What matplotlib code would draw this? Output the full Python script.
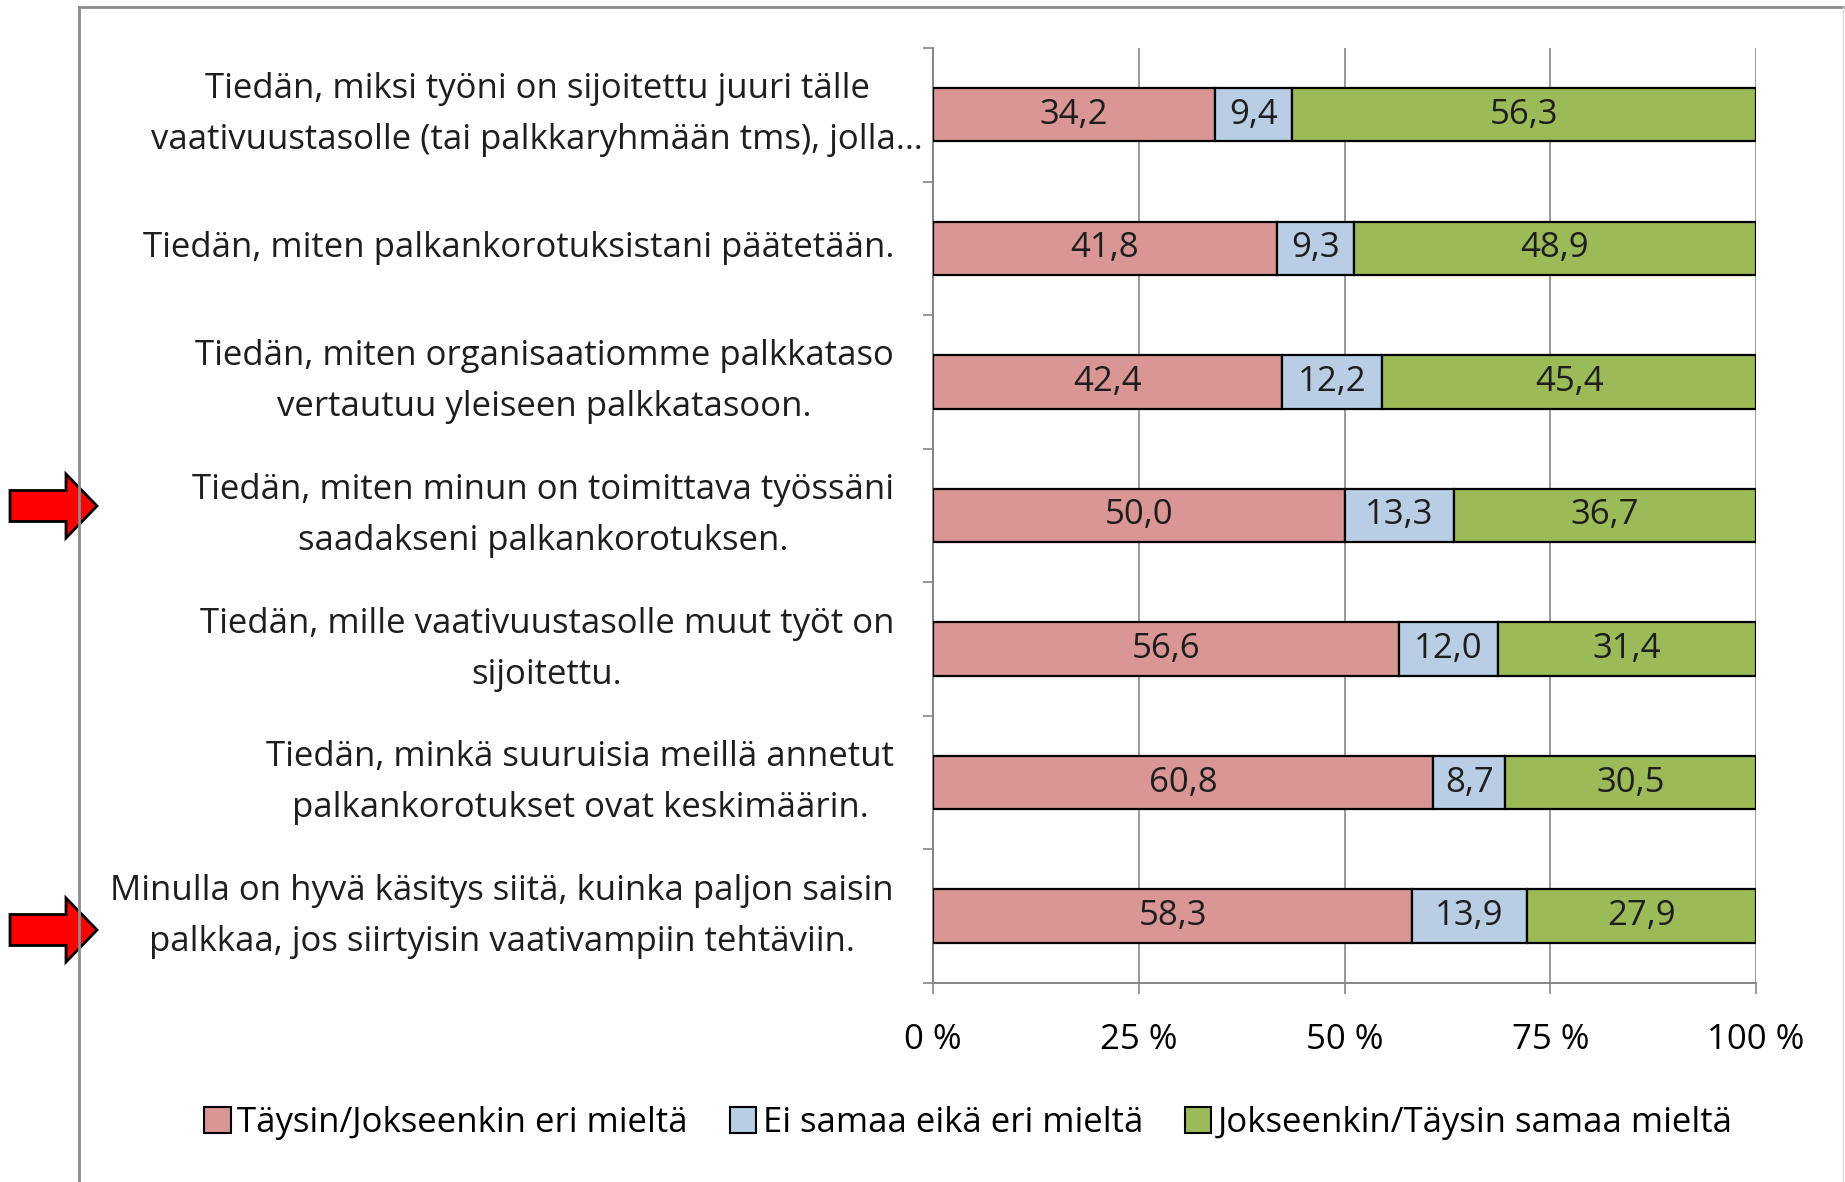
import matplotlib
matplotlib.use("Agg")
import matplotlib.pyplot as plt
from matplotlib.patches import Polygon, Patch
from matplotlib.lines import Line2D
import matplotlib.transforms as mtransforms
import numpy as np

plt.rcParams['font.family'] = ['Open Sans', 'DejaVu Sans']

categories = [
    "Tiedän, miksi työni on sijoitettu juuri tälle\nvaativuustasolle (tai palkkaryhmään tms), jolla…",
    "Tiedän, miten palkankorotuksistani päätetään.",
    "Tiedän, miten organisaatiomme palkkataso\nvertautuu yleiseen palkkatasoon.",
    "Tiedän, miten minun on toimittava työssäni\nsaadakseni palkankorotuksen.",
    "Tiedän, mille vaativuustasolle muut työt on\nsijoitettu.",
    "Tiedän, minkä suuruisia meillä annetut\npalkankorotukset ovat keskimäärin.",
    "Minulla on hyvä käsitys siitä, kuinka paljon saisin\npalkkaa, jos siirtyisin vaativampiin tehtäviin.",
]
disagree = [34.2, 41.8, 42.4, 50.0, 56.6, 60.8, 58.3]
neutral = [9.4, 9.3, 12.2, 13.3, 12.0, 8.7, 13.9]
agree = [56.3, 48.9, 45.4, 36.7, 31.4, 30.5, 27.9]
series_names = ["Täysin/Jokseenkin eri mieltä", "Ei samaa eikä eri mieltä",
                "Jokseenkin/Täysin samaa mieltä"]
colors = ["#D99694", "#B9CDE5", "#9BBB59"]
xticks = [0, 25, 50, 75, 100]
xtick_labels = ["0 %", "25 %", "50 %", "75 %", "100 %"]

W, H = 1845, 1182
fig = plt.figure(figsize=(W / 100, H / 100), dpi=100)
ax = fig.add_axes([933 / W, 1 - 983 / H, (1756 - 933) / W, (983 - 48) / H])

data = np.array([disagree, neutral, agree])
totals = data.sum(axis=0)
pct = data / totals * 100
y = np.arange(len(categories))
left = np.zeros(len(categories))
FS = 25
for i in range(3):
    bars = ax.barh(y, pct[i], left=left, height=0.4, color=colors[i],
                   edgecolor="black", linewidth=1.6, zorder=3, label=series_names[i])
    for j, b in enumerate(bars):
        ax.text(left[j] + pct[i][j] / 2, y[j], f"{data[i][j]:.1f}".replace(".", ","),
                ha="center", va="center", fontsize=FS, color="#1e1e1e", zorder=4)
    left += pct[i]

ax.set_xlim(0, 100)
ax.set_ylim(len(categories) - 0.5, -0.5)
ax.set_xticks(xticks)
ax.set_xticklabels(xtick_labels, fontsize=FS)
ax.set_yticks([])
ax.set_yticks(np.arange(len(categories) + 1) - 0.5, minor=True)
ax.tick_params(axis="y", which="minor", length=7, color="#868686", width=1.2)
ax.tick_params(axis="x", which="major", length=8, color="#868686", width=1.2, pad=21)
ax.grid(axis="x", color="#868686", linewidth=1.2, zorder=0)
for s in ["top", "right"]:
    ax.spines[s].set_visible(False)
for s in ["left", "bottom"]:
    ax.spines[s].set_color("#868686")
    ax.spines[s].set_linewidth(1.4)

# category labels
blend = mtransforms.blended_transform_factory(ax.transAxes, ax.transData)
offsets_px = [-10, -39, -39, -39, -39, -39, -39]
for j, lab in enumerate(categories):
    tr = blend + mtransforms.ScaledTranslation(offsets_px[j] / 100, 0, fig.dpi_scale_trans)
    ax.text(0, y[j], lab, transform=tr, ha="right", va="center", multialignment="center",
            fontsize=FS, linespacing=1.65, color="#1e1e1e")

# outer frame
fr = dict(color="#8c8c8c", linewidth=2.0, transform=fig.transFigure)
fig.add_artist(Line2D([79 / W, 79 / W], [0, 1 - 7 / H], **fr))
fig.add_artist(Line2D([79 / W, 1843 / W], [1 - 7 / H, 1 - 7 / H], **fr))
fig.add_artist(Line2D([1843 / W, 1843 / W], [0, 1 - 7 / H], color="#dddddd", linewidth=1.0,
                      transform=fig.transFigure))

# arrows (pixel-based shape, in inches)
def arrow(yc_px):
    yc = (H - yc_px) / 100
    x0, xs, x1 = 0.10, 0.66, 0.97
    sw, hw = 0.155, 0.32
    pts = [(x0, yc - sw), (xs, yc - sw), (xs, yc - hw), (x1, yc),
           (xs, yc + hw), (xs, yc + sw), (x0, yc + sw)]
    fig.add_artist(Polygon(pts, closed=True, facecolor="#FF0000", edgecolor="black",
                           linewidth=2, transform=fig.dpi_scale_trans))

arrow(506)
arrow(930)

handles = [Patch(facecolor=c, edgecolor="black", linewidth=1.5) for c in colors]
fig.legend(handles, series_names, loc="center", bbox_to_anchor=(0.525, 1 - 1123 / H),
           ncol=3, frameon=False, fontsize=FS, handlelength=0.75, handleheight=0.75,
           handletextpad=0.2, columnspacing=1.2)

fig.savefig("out.png", dpi=100)
